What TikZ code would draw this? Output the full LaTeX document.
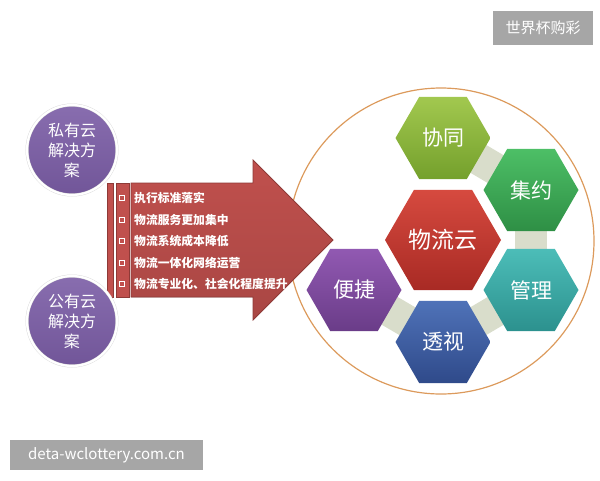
\documentclass[tikz,border=0pt]{standalone}
\usepackage{fontspec}
\setmainfont{Noto Sans CJK SC}
\usetikzlibrary{shapes.geometric}
\pgfdeclarelayer{background}
\pgfsetlayers{background,main}

\definecolor{cloudpurple}{HTML}{7B5DA6}
\definecolor{arrowred}{HTML}{C0504D}
\definecolor{arrowedge}{HTML}{8E3A37}
\definecolor{ringorange}{HTML}{DC9A5C}
\definecolor{bandgray}{HTML}{D9DDCB}
\definecolor{markgray}{HTML}{A6A6A6}
\definecolor{limetop}{HTML}{A2C84F}
\definecolor{limebot}{HTML}{74A02C}
\definecolor{greentop}{HTML}{4DBF66}
\definecolor{greenbot}{HTML}{2E8F45}
\definecolor{redtop}{HTML}{D64A3F}
\definecolor{redbot}{HTML}{A82A24}
\definecolor{tealtop}{HTML}{4CBDB8}
\definecolor{tealbot}{HTML}{2C918E}
\definecolor{bluetop}{HTML}{4F72B8}
\definecolor{bluebot}{HTML}{2F4A8A}
\definecolor{violettop}{HTML}{9159B2}
\definecolor{violetbot}{HTML}{6A3C88}

\begin{document}
\begin{tikzpicture}[x=1pt, y=-1pt,
	cloud/.style={circle, minimum size=90pt, inner sep=0pt, align=center, text=white,
		top color=cloudpurple!90!white, bottom color=cloudpurple!92!black,
		draw=gray!30, double=white, double distance=2.2pt,
		font=\fontsize{16}{20}\selectfont},
	hexa/.style={regular polygon, regular polygon sides=6, minimum size=95pt, inner sep=0pt,
		text=white, font=\fontsize{21}{21}\selectfont},
	band/.style={bandgray, line width=32pt},
	tick/.style={draw=white, minimum size=5pt, inner sep=0pt, line width=0.7pt},
	item/.style={anchor=west, inner sep=0pt, text=white, font=\fontsize{11.8}{12}\selectfont\bfseries},
	tagbox/.style={fill=markgray, text=white, inner sep=0pt}]
	\useasboundingbox (0,0) rectangle (600,480);
	
	% big ring
	\node[circle, draw=ringorange, line width=1.2pt, minimum size=306pt] (ring) at (441,241) {};
	
	% arrow with bars
	\fill[top color=arrowred, bottom color=arrowred!88!black, draw=arrowedge, line width=0.8pt]
		(131,183) -- (253,183) -- (253,160) -- (333,240) -- (253,320) -- (253,297) -- (131,297) -- cycle;
	\filldraw[fill=arrowred, draw=arrowedge, line width=0.8pt] (107,183) rectangle (113,297);
	\filldraw[fill=arrowred, draw=arrowedge, line width=0.8pt] (116,183) rectangle (129,297);
	
	\node[tick] (b1) at (122,198) {};
	\node[tick] (b2) at (122,220) {};
	\node[tick] (b3) at (122,241) {};
	\node[tick] (b4) at (122,263) {};
	\node[tick] (b5) at (122,284) {};
	\node[item] (t1) at (134,198) {执行标准落实};
	\node[item] (t2) at (134,220) {物流服务更加集中};
	\node[item] (t3) at (134,241) {物流系统成本降低};
	\node[item] (t4) at (134,263) {物流一体化网络运营};
	\node[item] (t5) at (134,284) {物流专业化、社会化程度提升};
	
	% clouds
	\node[cloud] (private) at (72,150) {私有云\\解决方\\案};
	\node[cloud] (public) at (72,321) {公有云\\解决方\\案};
	
	% hexagons
	\node[hexa, top color=limetop, bottom color=limebot] (xietong) at (443,138) {协同};
	\node[hexa, top color=greentop, bottom color=greenbot] (jiyue) at (531,190) {集约};
	\node[hexa, minimum size=116pt, font=\fontsize{23}{23}\selectfont,
		top color=redtop, bottom color=redbot] (wuliuyun) at (443,240) {物流云};
	\node[hexa, top color=tealtop, bottom color=tealbot] (guanli) at (531,290) {管理};
	\node[hexa, top color=bluetop, bottom color=bluebot] (toushi) at (443,342) {透视};
	\node[hexa, top color=violettop, bottom color=violetbot] (bianjie) at (354,290) {便捷};
	
	\begin{pgfonlayer}{background}
		\draw[band] (xietong.center) -- (jiyue.center);
		\draw[band] (jiyue.center) -- (guanli.center);
		\draw[band] (guanli.center) -- (toushi.center);
		\draw[band] (toushi.center) -- (bianjie.center);
	\end{pgfonlayer}
	
	% watermarks
	\node[tagbox, minimum width=100pt, minimum height=34pt, font=\fontsize{15}{15}\selectfont] (tag) at (543,28) {世界杯购彩};
	\node[tagbox, minimum width=193pt, minimum height=30pt, font=\fontsize{15}{15}\selectfont] (site) at (106.5,455) {deta-wclottery.com.cn};
\end{tikzpicture}
\end{document}
